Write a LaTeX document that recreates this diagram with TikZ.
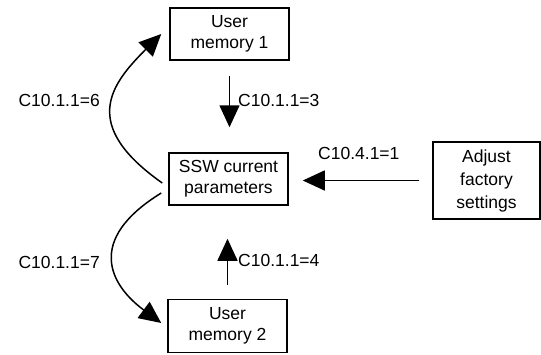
\documentclass[tikz,border=0pt]{standalone}
\usepackage{fontspec}
\setmainfont{Liberation Sans}
\usetikzlibrary{arrows.meta}
\begin{document}
\begin{tikzpicture}[x=1pt,y=-1pt,
  box/.style={draw,line width=1.5pt,align=center,inner sep=0pt,
    font=\fontsize{17.5}{21}\selectfont},
  lbl/.style={font=\fontsize{17.5}{20}\selectfont,inner sep=0pt},
  arr/.style={line width=1.5pt,-{Triangle[length=22pt,width=20pt]}}]
\useasboundingbox (0,0) rectangle (541,354);
\node[box,minimum width=119pt,minimum height=52pt] (um1) at (229.5,34) {User\\memory 1};
\node[box,minimum width=119pt,minimum height=52pt] (ssw) at (228.5,179) {SSW current\\parameters};
\node[box,minimum width=119pt,minimum height=53pt] (um2) at (227.5,326) {User\\memory 2};
\node[box,minimum width=107pt,minimum height=77pt,font=\fontsize{17.5}{23}\selectfont] (adj) at (486.5,180.5) {Adjust\\factory\\settings};
\draw[arr,shorten <=15pt,shorten >=25pt] (um1.south) -- (um1.south |- ssw.north);
\draw[arr,shorten <=14pt,shorten >=33pt] (um2.north) -- (um2.north |- ssw.south);
\draw[arr,shorten <=13pt,shorten >=14pt] (adj.west) -- (adj.west -| ssw.east);
\draw[arr] ([xshift=-6pt,yshift=-4pt]ssw.west) .. controls (80,125) and (110,85) .. ([xshift=-8pt]um1.west);
\draw[arr] ([xshift=-7pt,yshift=-14pt]ssw.west) .. controls (85,240) and (110,285) .. ([xshift=-6pt,yshift=3pt]um2.west);
\node[lbl,anchor=east] (l6) at (100,100) {C10.1.1=6};
\node[lbl,anchor=east] (l7) at (100,262) {C10.1.1=7};
\node[lbl,anchor=west] (l3) at (238,100) {C10.1.1=3};
\node[lbl,anchor=west] (l4) at (238,260) {C10.1.1=4};
\node[lbl,anchor=west] (l1) at (318,153) {C10.4.1=1};
\end{tikzpicture}
\end{document}
